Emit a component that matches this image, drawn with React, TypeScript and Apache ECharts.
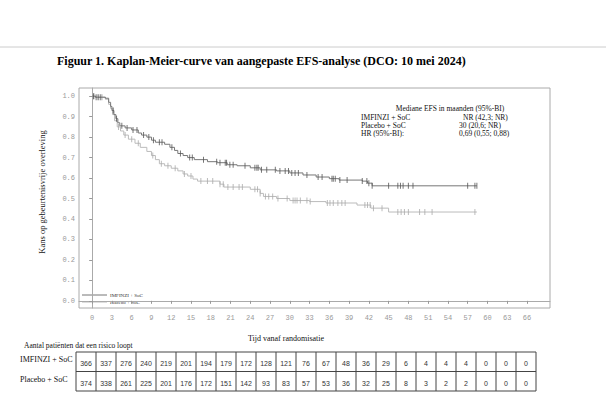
import React, { useEffect, useRef } from "react";
import * as echarts from "echarts";

const xTicks = [0, 3, 6, 9, 12, 15, 18, 21, 24, 27, 30, 33, 36, 39, 42, 45, 48, 51, 54, 57, 60, 63, 66];
const yTicks = [0, 0.1, 0.2, 0.3, 0.4, 0.5, 0.6, 0.7, 0.8, 0.9, 1.0];

const imfTimes = [0, 0.5, 2.0, 2.5, 2.8, 3.0, 3.3, 3.6, 3.9, 4.2, 5.0, 6.0, 7.0, 7.5, 8.3, 9.0, 9.6, 11.0, 11.8, 12.5, 13.0, 13.8, 14.5, 15.5, 17.5, 19.0, 20.5, 22.0, 24.0, 25.5, 28.0, 30.0, 32.0, 34.0, 36.0, 37.5, 41.0, 41.8, 42.5, 58.4];
const imfSurv = [1.0, 0.995, 0.99, 0.97, 0.95, 0.93, 0.91, 0.89, 0.87, 0.855, 0.845, 0.835, 0.82, 0.81, 0.8, 0.785, 0.775, 0.765, 0.75, 0.735, 0.72, 0.71, 0.7, 0.69, 0.68, 0.675, 0.665, 0.66, 0.65, 0.64, 0.635, 0.625, 0.615, 0.605, 0.597, 0.59, 0.585, 0.575, 0.562, 0.562];

const plaTimes = [0, 0.5, 2.0, 2.5, 2.8, 3.1, 3.4, 3.8, 4.3, 4.8, 5.5, 6.5, 7.3, 8.3, 9.0, 9.6, 10.2, 11.0, 12.0, 13.0, 13.8, 14.5, 15.3, 16.0, 19.4, 20.0, 24.0, 25.5, 26.0, 28.0, 30.0, 33.0, 35.5, 40.2, 42.3, 45.0, 58.4];
const plaSurv = [1.0, 0.995, 0.985, 0.96, 0.94, 0.91, 0.88, 0.85, 0.83, 0.81, 0.79, 0.77, 0.75, 0.73, 0.71, 0.69, 0.67, 0.66, 0.648, 0.635, 0.62, 0.61, 0.595, 0.585, 0.57, 0.556, 0.545, 0.525, 0.51, 0.5, 0.49, 0.485, 0.478, 0.468, 0.453, 0.434, 0.434];

const imfCensor = [0.2, 0.6, 1.0, 1.3, 3.2, 3.7, 4.5, 5.3, 6.2, 6.8, 7.8, 8.6, 9.3, 10.2, 10.6, 12.1, 13.4, 14.8, 15.2, 16.9, 18.9, 19.4, 20.2, 20.4, 20.9, 21.4, 23.2, 24.7, 25.0, 25.2, 25.7, 26.5, 27.8, 28.5, 29.3, 29.8, 30.3, 30.8, 31.3, 32.6, 34.3, 34.9, 36.4, 36.6, 36.9, 37.6, 38.7, 41.0, 41.7, 42.0, 42.5, 45.0, 46.4, 46.8, 47.2, 48.0, 48.7, 57.0, 58.1, 58.4];
const plaCensor = [0.3, 0.8, 1.5, 4.0, 5.0, 6.0, 7.0, 9.2, 10.5, 11.5, 12.6, 14.0, 15.0, 16.5, 17.5, 18.3, 19.4, 19.9, 20.6, 21.4, 22.3, 22.8, 24.7, 25.1, 25.5, 26.3, 26.8, 27.4, 28.2, 29.6, 30.5, 30.8, 31.1, 31.6, 32.6, 33.1, 35.7, 36.1, 36.6, 37.3, 37.9, 38.4, 41.4, 41.8, 42.2, 42.7, 44.0, 46.4, 46.9, 47.4, 48.0, 49.7, 50.5, 51.6, 58.1];

const riskTimes = xTicks;
const imfRisk = [366, 337, 276, 240, 219, 201, 194, 179, 172, 128, 121, 76, 67, 48, 36, 29, 6, 4, 4, 4, 0, 0, 0];
const plaRisk = [374, 338, 261, 225, 201, 176, 172, 151, 142, 93, 83, 57, 53, 36, 32, 25, 8, 3, 2, 2, 0, 0, 0];

const armNames = ["IMFINZI + SoC", "Placebo + SoC"];
const medianHeader = "Mediane EFS in maanden (95%-BI)";
const medianRows = [
  ["IMFINZI + SoC", "NR (42,3; NR)"],
  ["Placebo + SoC", "30 (20,6; NR)"],
  ["HR (95%-BI):", "0,69 (0,55; 0,88)"],
];

function survAt(times: number[], surv: number[], t: number) {
  let s = surv[0];
  for (let i = 0; i < times.length; i++) {
    if (times[i] <= t) s = surv[i];
  }
  return s;
}

const SERIF = "'Liberation Serif', 'Times New Roman', serif";
const MONO = "'Liberation Mono', 'DejaVu Sans Mono', monospace";
const SANS = "'Liberation Sans', Arial, sans-serif";

export default function App() {
  const ref = useRef<HTMLDivElement>(null);
  useEffect(() => {
    if (!ref.current) return;
    const chart = echarts.init(ref.current, undefined, { renderer: "svg" });

    const tableX = 76;
    const colW = 20;
    const tableTop = 352;
    const rowH = 19.5;
    const tableGraphics: any[] = [];
    tableGraphics.push({
      type: "rect",
      shape: { x: tableX, y: tableTop, width: colW * riskTimes.length, height: rowH * 2 },
      style: { fill: "none", stroke: "#444", lineWidth: 1 },
    });
    tableGraphics.push({
      type: "line",
      shape: { x1: tableX, y1: tableTop + rowH, x2: tableX + colW * riskTimes.length, y2: tableTop + rowH },
      style: { stroke: "#444", lineWidth: 1 },
    });
    for (let i = 1; i < riskTimes.length; i++) {
      tableGraphics.push({
        type: "line",
        shape: { x1: tableX + colW * i, y1: tableTop, x2: tableX + colW * i, y2: tableTop + rowH * 2 },
        style: { stroke: "#444", lineWidth: 1 },
      });
    }
    [imfRisk, plaRisk].forEach((arr, r) => {
      arr.forEach((v, i) => {
        tableGraphics.push({
          type: "text",
          x: tableX + colW * i + colW / 2,
          y: tableTop + rowH * r + rowH / 2 + 2,
          style: { text: String(v), fill: "#333", font: `7px ${SANS}`, align: "center", verticalAlign: "middle" },
        });
      });
      tableGraphics.push({
        type: "text",
        x: 20,
        y: tableTop + rowH * r + rowH / 2 - 2,
        style: { text: armNames[r], fill: "#111", font: `8px ${SERIF}`, align: "left", verticalAlign: "middle" },
      });
    });

    const medianGraphics: any[] = [
      {
        type: "text",
        x: 450,
        y: 108,
        style: { text: medianHeader, fill: "#111", font: `7.5px ${SERIF}`, align: "center", verticalAlign: "middle" },
      },
    ];
    medianRows.forEach((row, i) => {
      medianGraphics.push({
        type: "text",
        x: 361,
        y: 117 + i * 8,
        style: { text: row[0], fill: "#111", font: `7.5px ${SERIF}`, align: "left", verticalAlign: "middle" },
      });
      medianGraphics.push({
        type: "text",
        x: i === 0 ? 463 : 459,
        y: 117 + i * 8,
        style: { text: row[1], fill: "#111", font: `7.5px ${SERIF}`, align: "left", verticalAlign: "middle" },
      });
    });

    const legendGraphics: any[] = [
      { type: "line", shape: { x1: 82, y1: 295, x2: 107, y2: 295 }, style: { stroke: "#777", lineWidth: 1 } },
      { type: "line", shape: { x1: 82, y1: 302, x2: 107, y2: 302 }, style: { stroke: "#bbb", lineWidth: 1 } },
      { type: "text", x: 110, y: 295, style: { text: armNames[0], fill: "#333", font: `5px ${SERIF}`, verticalAlign: "middle" } },
      { type: "text", x: 110, y: 302, style: { text: armNames[1], fill: "#333", font: `5px ${SERIF}`, verticalAlign: "middle" } },
    ];

    const option: any = {
      animation: false,
      backgroundColor: "#fff",
      grid: {
        left: 79,
        top: 88,
        right: 56,
        bottom: 88,
        show: true,
        borderColor: "#aaa",
        borderWidth: 1,
        containLabel: false,
      },
      xAxis: {
        type: "value",
        min: -2,
        max: 69.5,
        splitLine: { show: false },
        axisLine: { show: true, lineStyle: { color: "#aaa", width: 1 } },
        axisTick: { show: true, length: 3, inside: false, customValues: xTicks, lineStyle: { color: "#999" } },
        axisLabel: {
          customValues: xTicks,
          color: "#999",
          fontFamily: MONO,
          fontSize: 7,
          margin: 6,
        },
      },
      yAxis: {
        type: "value",
        min: -0.035,
        max: 1.04,
        splitLine: { show: false },
        axisLine: { show: true, lineStyle: { color: "#aaa", width: 1 } },
        axisTick: { show: true, length: 3, inside: false, customValues: yTicks, lineStyle: { color: "#999" } },
        axisLabel: {
          customValues: yTicks,
          color: "#999",
          fontFamily: MONO,
          fontSize: 7,
          margin: 4,
          formatter: (v: number) => v.toFixed(1),
        },
      },
      series: [
        {
          type: "line",
          name: armNames[1],
          step: "end",
          showSymbol: false,
          symbol: "none",
          data: plaTimes.map((t, i) => [t, plaSurv[i]]),
          lineStyle: { color: "#bbb", width: 1 },
          z: 2,
        },
        {
          type: "scatter",
          name: armNames[1] + " censored",
          symbol: "rect",
          symbolSize: [1, 6],
          data: plaCensor.map((t) => [t, survAt(plaTimes, plaSurv, t)]),
          itemStyle: { color: "#aaa" },
          z: 2,
        },
        {
          type: "line",
          name: armNames[0],
          step: "end",
          showSymbol: false,
          symbol: "none",
          data: imfTimes.map((t, i) => [t, imfSurv[i]]),
          lineStyle: { color: "#777", width: 1 },
          z: 3,
        },
        {
          type: "scatter",
          name: armNames[0] + " censored",
          symbol: "rect",
          symbolSize: [1, 6],
          data: imfCensor.map((t) => [t, survAt(imfTimes, imfSurv, t)]),
          itemStyle: { color: "#555" },
          z: 3,
        },
      ],
      graphic: [
        { type: "line", shape: { x1: 0, y1: 47, x2: 606, y2: 47 }, style: { stroke: "#ccc", lineWidth: 1 } },
        {
          type: "text",
          x: 57,
          y: 61,
          style: {
            text: "Figuur 1. Kaplan-Meier-curve van aangepaste EFS-analyse (DCO: 10 mei 2024)",
            fill: "#000",
            font: `bold 12px ${SERIF}`,
            verticalAlign: "middle",
          },
        },
        {
          type: "text",
          x: 42,
          y: 192,
          rotation: Math.PI / 2,
          style: {
            text: "Kans op gebeurtenisvrije overleving",
            fill: "#111",
            font: `8.5px ${SERIF}`,
            align: "center",
            verticalAlign: "middle",
          },
        },
        {
          type: "text",
          x: 286,
          y: 338,
          style: { text: "Tijd vanaf randomisatie", fill: "#111", font: `8px ${SERIF}`, align: "center", verticalAlign: "middle" },
        },
        {
          type: "text",
          x: 24,
          y: 345,
          style: { text: "Aantal patiënten dat een risico loopt", fill: "#111", font: `7.5px ${SERIF}`, verticalAlign: "middle" },
        },
        ...medianGraphics,
        ...legendGraphics,
        ...tableGraphics,
      ],
    };
    chart.setOption(option);
    return () => chart.dispose();
  }, []);
  return <div ref={ref} style={{ position: "fixed", left: 0, top: 0, width: 606, height: 396 }} />;
}
